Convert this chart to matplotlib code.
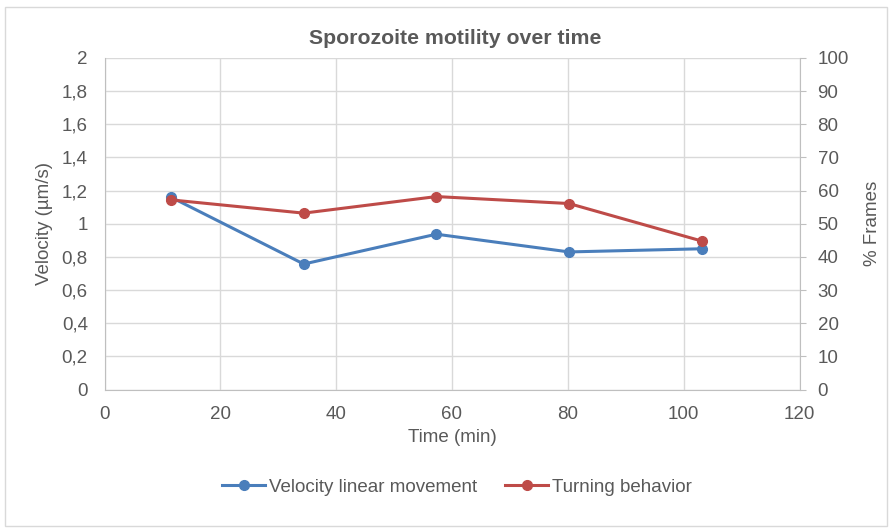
import matplotlib
matplotlib.use('Agg')
import matplotlib.pyplot as plt
from matplotlib.patches import Rectangle

plt.rcParams['font.family'] = ['Liberation Sans', 'DejaVu Sans']

time_min = [11.5, 34.4, 57.3, 80.2, 103.1]
velocity = [1.16, 0.757, 0.937, 0.83, 0.849]
turning = [57.2, 53.2, 58.2, 56.1, 44.8]

vel_ticks = [0, 0.2, 0.4, 0.6, 0.8, 1.0, 1.2, 1.4, 1.6, 1.8, 2.0]
vel_labels = ['0', '0,2', '0,4', '0,6', '0,8', '1', '1,2', '1,4', '1,6', '1,8', '2']
pct_ticks = list(range(0, 101, 10))
time_ticks = list(range(0, 121, 20))

blue = '#4A7EBB'
red = '#BE4B48'
grid_c = '#D9D9D9'
axis_c = '#BFBFBF'
text_c = '#595959'
fs = 13.5

fig = plt.figure(figsize=(8.92, 5.3), dpi=100)
# chart area border
fig.patches.append(Rectangle((5 / 892, 4 / 530), 882 / 892, 519 / 530,
                             transform=fig.transFigure, fill=False,
                             edgecolor='#D9D9D9', linewidth=1))

ax = fig.add_axes([104.5 / 892, 1 - 389.5 / 530, 695 / 892, 331.5 / 530])
ax2 = ax.twinx()

l1, = ax.plot(time_min, velocity, color=blue, lw=2.2, marker='o', ms=7,
              label='Velocity linear movement', zorder=3)
l2, = ax2.plot(time_min, turning, color=red, lw=2.2, marker='o', ms=7,
               label='Turning behavior', zorder=3)

ax.set_xlim(0, 120)
ax.set_ylim(0, 2)
ax2.set_ylim(0, 100)
ax.set_xticks(time_ticks)
ax.set_yticks(vel_ticks)
ax.set_yticklabels(vel_labels)
ax2.set_yticks(pct_ticks)

ax.grid(True, color=grid_c, lw=1)
ax.set_axisbelow(True)

for a in (ax, ax2):
    for s in a.spines.values():
        s.set_visible(False)
ax.spines['bottom'].set_visible(True)
ax.spines['bottom'].set_color(axis_c)
ax.spines['left'].set_visible(True)
ax.spines['left'].set_color(axis_c)
ax2.spines['right'].set_visible(True)
ax2.spines['right'].set_color(axis_c)

ax.tick_params(axis='both', length=0, labelsize=fs, colors=text_c, pad=12)
ax.tick_params(axis='x', pad=12)
ax2.tick_params(axis='y', length=4, color=axis_c, labelsize=fs,
                labelcolor=text_c, pad=9)

ax.set_xlabel('Time (min)', fontsize=fs, color=text_c, labelpad=4)
ax.set_ylabel('Velocity (µm/s)', fontsize=fs, color=text_c, labelpad=6)
ax2.set_ylabel('% Frames', fontsize=fs, color=text_c, labelpad=11)

fig.text(455 / 892, 1 - 38 / 530, 'Sporozoite motility over time',
         ha='center', va='center', fontsize=15.3, fontweight='bold',
         color=text_c)

fig.legend(handles=[l1, l2], loc='center', bbox_to_anchor=(457 / 892, 1 - 487 / 530),
           ncol=2, frameon=False, fontsize=fs, labelcolor=text_c,
           handlelength=2.3, handletextpad=0.2, columnspacing=1.5)

fig.savefig('out.png', dpi=100)
